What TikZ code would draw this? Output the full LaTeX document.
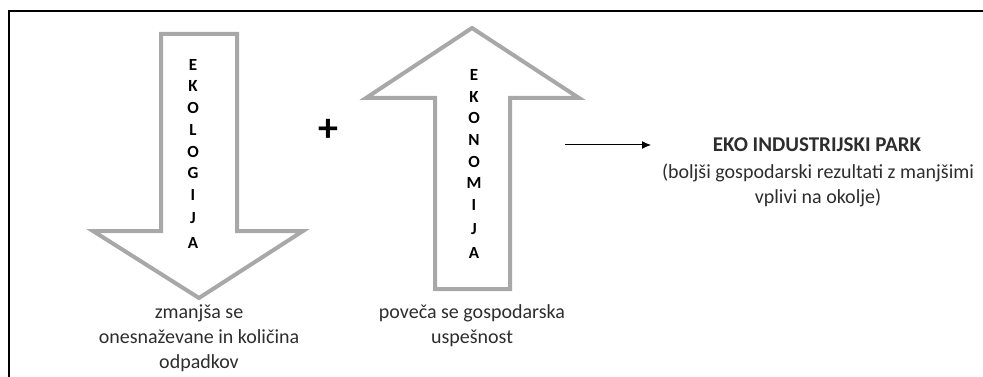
\documentclass[tikz,border=0pt]{standalone}
\usepackage{fontspec}
\setmainfont{Carlito}
\usetikzlibrary{arrows.meta}
\definecolor{arrgray}{RGB}{168,168,168}
\definecolor{txtgray}{RGB}{45,45,45}
\begin{document}
\begin{tikzpicture}[x=1pt,y=-1pt,
  bigarrow/.style={draw=arrgray,line width=4pt,fill=white,line join=miter},
  letter/.style={font=\fontsize{17}{17}\selectfont\bfseries,text=black,inner sep=0pt,anchor=center},
  desc/.style={font=\fontsize{20}{25}\selectfont,text=txtgray,align=center,inner sep=0pt},
  frameline/.style={line width=2pt,black}]
\useasboundingbox (0,0) rectangle (983,377);
% frame
\draw[frameline] (983,11) -- (9,11) -- (9,377);
% down arrow
\draw[bigarrow] (161,34) -- (237,34) -- (237,231) -- (303,231) -- (199,298) -- (93,231) -- (161,231) -- cycle;
% up arrow
\draw[bigarrow] (472,28) -- (579,98) -- (510,98) -- (510,289) -- (435,289) -- (435,98) -- (366,98) -- cycle;
% letters
\foreach \ch/\yy [count=\i] in {E/65,K/86,O/108,L/130,O/152,G/173,I/195,J/218,A/243}
  \node[letter] (eco\i) at (193,\yy) {\ch};
\foreach \ch/\yy [count=\i] in {E/75,K/97,O/118,N/140,O/162,M/183,I/205,J/229,A/253}
  \node[letter] (eko\i) at (474,\yy) {\ch};
% plus
\node[font=\fontsize{40}{40}\selectfont\bfseries,inner sep=0pt] (plus) at (328,130) {+};
% bottom texts
\node[desc,anchor=north] (d1) at (199,305) {zmanjša se\\onesnaževane in količina\\odpadkov};
\node[desc,anchor=north] (d2) at (472,304) {poveča se gospodarska\\uspešnost};
% arrow to result
\coordinate (s) at (565,145);
\coordinate (t) at (651,145);
\draw[line width=1pt,-{Latex[length=9pt,width=8pt]}] (s) -- (t);
% result
\node[font=\fontsize{21}{21}\selectfont\bfseries,text=txtgray,inner sep=0pt] (park) at (817,145) {EKO INDUSTRIJSKI PARK};
\node[desc,anchor=north] (res) at (818,164) {(boljši gospodarski rezultati z manjšimi\\vplivi na okolje)};
\end{tikzpicture}
\end{document}
